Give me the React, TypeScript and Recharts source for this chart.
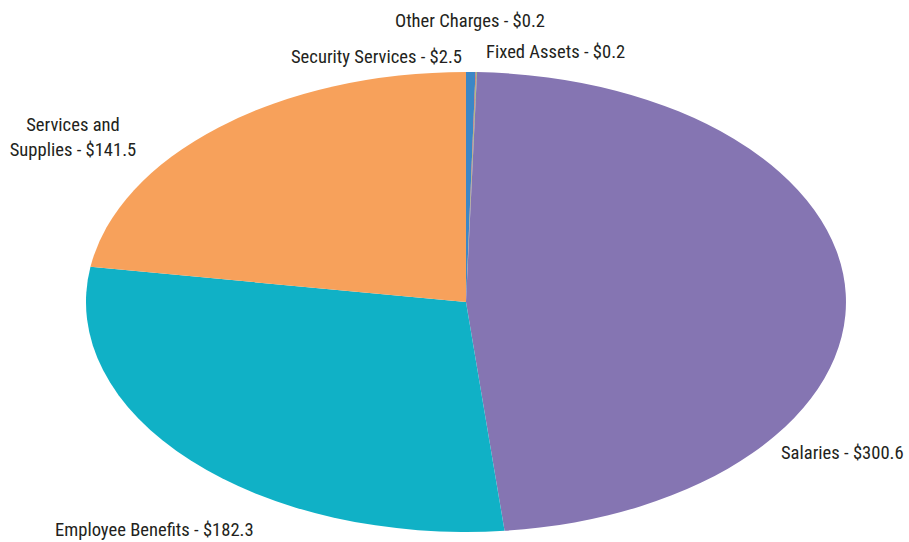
import React from "react";
import { PieChart, Pie, Cell } from "recharts";

const CATEGORIES = [
  "Security Services",
  "Other Charges",
  "Fixed Assets",
  "Salaries",
  "Employee Benefits",
  "Services and Supplies",
];
const VALUES = [2.5, 0.2, 0.2, 300.6, 182.3, 141.5];
const COLORS = ["#3c87c6", "#d2605e", "#8dbb62", "#8575b2", "#10b1c6", "#f7a15b"];

// where Excel put each label (page px), with anchor
const LABEL_POS: { x: number; y: number; anchor: "start" | "middle" | "end"; lines?: string[] }[] = [
  { x: 462, y: 57, anchor: "end" },
  { x: 470, y: 21, anchor: "middle" },
  { x: 486, y: 52, anchor: "start" },
  { x: 781, y: 453, anchor: "start" },
  { x: 55, y: 530, anchor: "start" },
  { x: 73, y: 125, anchor: "middle", lines: ["Services and", "Supplies - $141.5"] },
];

const W = 909;
const H = 542;
const RX = 380;
const RY = 230;
const SX = RX / RY; // horizontal stretch to get the ellipse
const FONT = "'Liberation Sans Narrow', 'Roboto Condensed', Roboto, sans-serif";

const data = CATEGORIES.map((name, i) => ({ name, value: VALUES[i] }));

function renderLabel(props: any) {
  const i = props.index as number;
  const p = LABEL_POS[i];
  const text = `${CATEGORIES[i]} - $${VALUES[i].toFixed(1)}`;
  const lines = p.lines ?? [text];
  return (
    <g key={`lbl-${i}`} transform={`translate(${p.x / SX}, ${p.y}) scale(${1 / SX}, 1)`}>
      {lines.map((ln, k) => (
        <text
          key={k}
          x={0}
          y={k * 25}
          textAnchor={p.anchor}
          dominantBaseline="central"
          fill="#231f20"
          fontSize={18.6}
          fontFamily={FONT}
        >
          {ln}
        </text>
      ))}
    </g>
  );
}

export default function App() {
  const innerW = W / SX;
  return (
    <div style={{ position: "absolute", left: 0, top: 0, width: W, height: H, background: "#fff", overflow: "hidden" }}>
      <div style={{ width: innerW, height: H, transform: `scaleX(${SX})`, transformOrigin: "0 0" }}>
        <PieChart width={innerW} height={H} margin={{ top: 0, right: 0, bottom: 0, left: 0 }}>
          <Pie
            data={data}
            dataKey="value"
            nameKey="name"
            cx={466 / SX}
            cy={302}
            outerRadius={RY}
            startAngle={90}
            endAngle={-270}
            stroke="none"
            labelLine={false}
            label={renderLabel}
            isAnimationActive={false}
          >
            {data.map((_, i) => (
              <Cell key={i} fill={COLORS[i]} />
            ))}
          </Pie>
        </PieChart>
      </div>
    </div>
  );
}
